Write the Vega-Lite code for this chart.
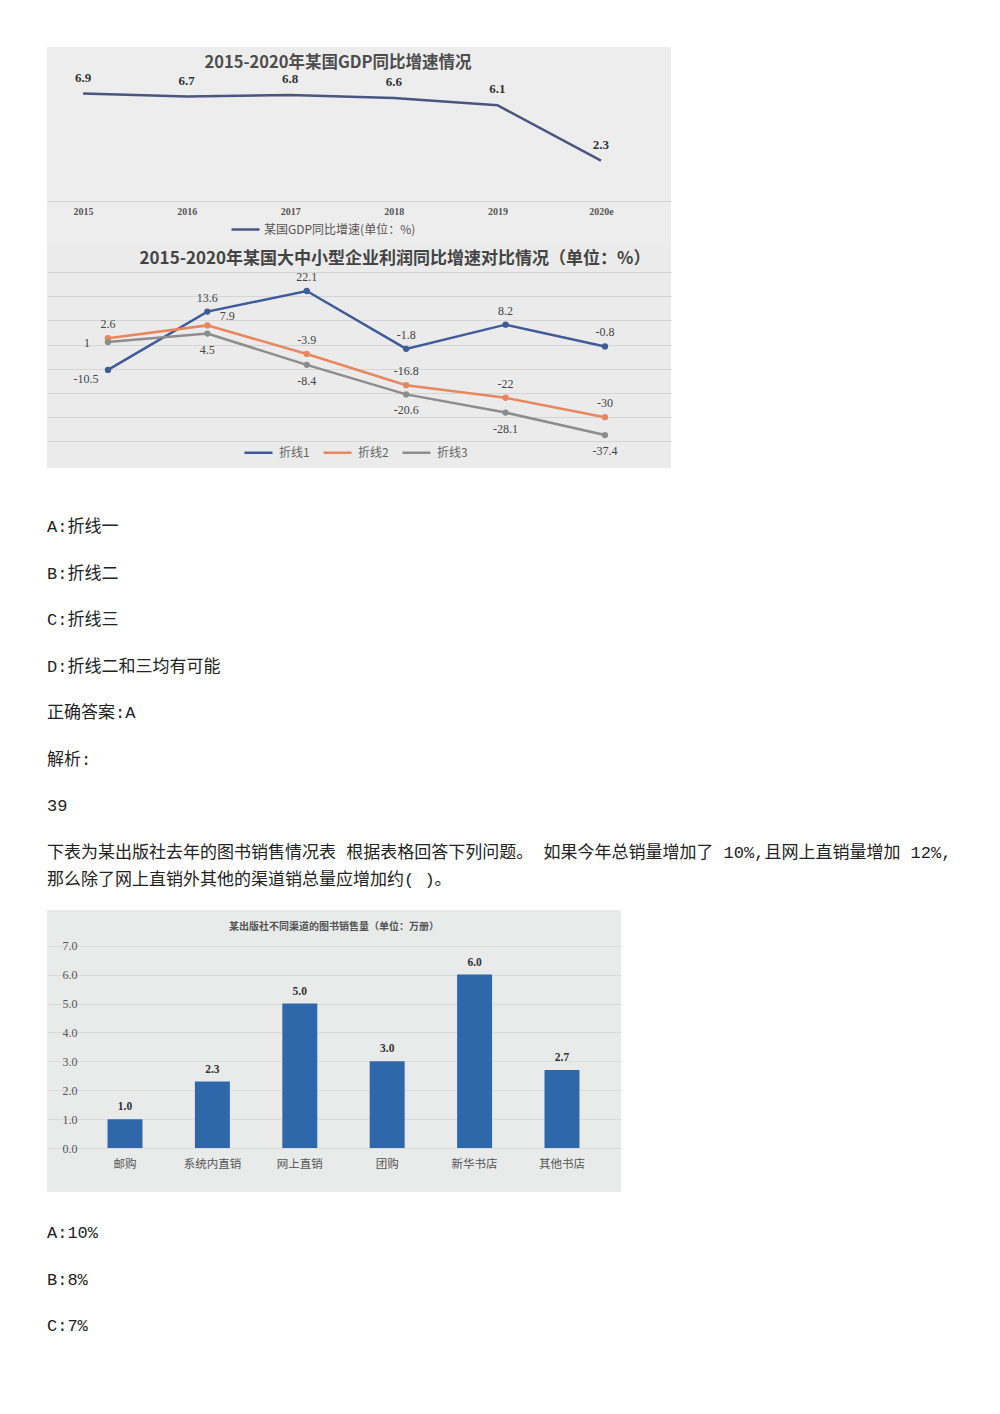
{
  "$schema": "https://vega.github.io/schema/vega-lite/v6.json",
  "background": "white",
  "padding": {"left": 47, "top": 47, "right": 0, "bottom": 0},
  "spacing": 0,
  "bounds": "flush",
  "resolve": {"scale": {"color": "independent", "x": "independent", "y": "independent"}, "legend": {"color": "independent"}},
  "config": {"view": {"stroke": null}, "font": "Noto Sans CJK SC"},
  "datasets": {
    "gdp": [
      {"year": "2015", "value": 6.9, "series": "某国GDP同比增速(单位：%)"},
      {"year": "2016", "value": 6.7, "series": "某国GDP同比增速(单位：%)"},
      {"year": "2017", "value": 6.8, "series": "某国GDP同比增速(单位：%)"},
      {"year": "2018", "value": 6.6, "series": "某国GDP同比增速(单位：%)"},
      {"year": "2019", "value": 6.1, "series": "某国GDP同比增速(单位：%)"},
      {"year": "2020e", "value": 2.3, "series": "某国GDP同比增速(单位：%)"}
    ],
    "profit": [
      {"year": "2015", "series": "折线1", "value": -10.5},
      {"year": "2016", "series": "折线1", "value": 13.6},
      {"year": "2017", "series": "折线1", "value": 22.1},
      {"year": "2018", "series": "折线1", "value": -1.8},
      {"year": "2019", "series": "折线1", "value": 8.2},
      {"year": "2020", "series": "折线1", "value": -0.8},
      {"year": "2015", "series": "折线2", "value": 2.6},
      {"year": "2016", "series": "折线2", "value": 7.9},
      {"year": "2017", "series": "折线2", "value": -3.9},
      {"year": "2018", "series": "折线2", "value": -16.8},
      {"year": "2019", "series": "折线2", "value": -22},
      {"year": "2020", "series": "折线2", "value": -30},
      {"year": "2015", "series": "折线3", "value": 1},
      {"year": "2016", "series": "折线3", "value": 4.5},
      {"year": "2017", "series": "折线3", "value": -8.4},
      {"year": "2018", "series": "折线3", "value": -20.6},
      {"year": "2019", "series": "折线3", "value": -28.1},
      {"year": "2020", "series": "折线3", "value": -37.4}
    ],
    "bars": [
      {"channel": "邮购", "value": 1.0},
      {"channel": "系统内直销", "value": 2.3},
      {"channel": "网上直销", "value": 5.0},
      {"channel": "团购", "value": 3.0},
      {"channel": "新华书店", "value": 6.0},
      {"channel": "其他书店", "value": 2.7}
    ],
    "text1": [
      {"row": 0, "text": "A:折线一"},
      {"row": 1, "text": "B:折线二"},
      {"row": 2, "text": "C:折线三"},
      {"row": 3, "text": "D:折线二和三均有可能"},
      {"row": 4, "text": "正确答案:A"},
      {"row": 5, "text": "解析:"},
      {"row": 6, "text": "39"},
      {"row": 7, "text": "下表为某出版社去年的图书销售情况表 根据表格回答下列问题。 如果今年总销量增加了 10%,且网上直销量增加 12%,\n那么除了网上直销外其他的渠道销总量应增加约( )。"}
    ],
    "text2": [
      {"row": 0, "text": "A:10%"},
      {"row": 1, "text": "B:8%"},
      {"row": 2, "text": "C:7%"}
    ]
  },
  "vconcat": [
    {
      "width": 624,
      "height": 198,
      "view": {"fill": "#ededed", "stroke": null},
      "title": {"text": "2015-2020年某国GDP同比增速情况", "offset": -24, "fontSize": 16.5, "font": "Noto Sans CJK SC", "fontWeight": "bold", "color": "#4d4d4d", "anchor": "middle", "dx": -21},
      "data": {"name": "gdp"},
      "encoding": {
        "x": {"field": "year", "type": "ordinal", "sort": null,
          "scale": {"type": "point", "padding": 0.512, "align": 0.34},
          "axis": {"orient": "bottom", "offset": -44, "title": null, "labelAngle": 0, "ticks": false, "domainColor": "#d2d2d2", "labelFont": "Liberation Serif", "labelFontSize": 10, "labelFontWeight": "bold", "labelColor": "#555", "labelPadding": 5}},
        "y": {"field": "value", "type": "quantitative", "scale": {"domain": [-3.5, 10.1]}, "axis": null}
      },
      "layer": [
        {"mark": {"type": "line", "strokeWidth": 2.5},
         "encoding": {"color": {"field": "series", "type": "nominal", "scale": {"range": ["#4a5680"]},
           "legend": {"orient": "none", "legendX": 183, "legendY": 167, "title": null, "symbolType": "stroke", "symbolSize": 784, "symbolStrokeWidth": 2.5, "labelFont": "Noto Sans CJK SC", "labelFontSize": 12, "labelColor": "#555", "labelOffset": 3}}}},
        {"mark": {"type": "text", "dy": -16, "font": "Liberation Serif", "fontSize": 13, "fontWeight": "bold", "color": "#333"},
         "encoding": {"text": {"field": "value", "type": "quantitative", "format": ".1f"}}}
      ]
    },
    {
      "width": 624,
      "height": 223,
      "view": {"fill": "#ebebeb", "stroke": null},
      "title": {"text": "2015-2020年某国大中小型企业利润同比增速对比情况（单位：%）", "offset": -23, "fontSize": 17, "font": "Noto Sans CJK SC", "fontWeight": "bold", "color": "#444", "anchor": "middle", "dx": 36},
      "data": {"name": "profit"},
      "encoding": {
        "x": {"field": "year", "type": "ordinal", "scale": {"type": "point", "padding": 0.639, "align": 0.48}, "axis": null},
        "y": {"field": "value", "type": "quantitative", "scale": {"domain": [-51, 41.1]},
          "axis": {"orient": "left", "values": [-40, -30, -20, -10, 0, 10, 20, 30], "grid": true, "gridColor": "#d5d5d5", "gridWidth": 1.2, "labels": false, "ticks": false, "domain": false, "title": null}}
      },
      "layer": [
        {"mark": {"type": "line", "strokeWidth": 2.5, "point": {"filled": true, "size": 40}},
         "encoding": {"color": {"field": "series", "type": "nominal", "scale": {"domain": ["折线1", "折线2", "折线3"], "range": ["#3f5b9a", "#e8875e", "#8d8d8d"]},
           "legend": {"orient": "none", "direction": "horizontal", "legendX": 196, "legendY": 192, "title": null, "symbolType": "stroke", "symbolSize": 784, "symbolStrokeWidth": 2.5, "labelFont": "Noto Sans CJK SC", "labelFontSize": 12, "labelColor": "#666", "labelOffset": 5, "columnPadding": 8}}}},
        {"transform": [{"filter": "(datum.series === '折线1' && datum.year !== '2015') || (datum.series === '折线2' && datum.year !== '2016')"}],
         "mark": {"type": "text", "dy": -14, "font": "Liberation Serif", "fontSize": 12, "color": "#444"},
         "encoding": {"text": {"field": "value", "type": "nominal"}}},
        {"transform": [{"filter": "datum.series === '折线2' && datum.year === '2016'"}],
         "mark": {"type": "text", "dx": 20, "dy": -9, "font": "Liberation Serif", "fontSize": 12, "color": "#444"},
         "encoding": {"text": {"field": "value", "type": "nominal"}}},
        {"transform": [{"filter": "datum.series === '折线1' && datum.year === '2015'"}],
         "mark": {"type": "text", "dx": -22, "dy": 9, "font": "Liberation Serif", "fontSize": 12, "color": "#444"},
         "encoding": {"text": {"field": "value", "type": "nominal"}}},
        {"transform": [{"filter": "datum.series === '折线3' && datum.year === '2015'"}],
         "mark": {"type": "text", "dx": -21, "dy": 1, "font": "Liberation Serif", "fontSize": 12, "color": "#444"},
         "encoding": {"text": {"field": "value", "type": "nominal"}}},
        {"transform": [{"filter": "datum.series === '折线3' && datum.year !== '2015'"}],
         "mark": {"type": "text", "dy": 16, "font": "Liberation Serif", "fontSize": 12, "color": "#444"},
         "encoding": {"text": {"field": "value", "type": "nominal"}}}
      ]
    },
    {
      "width": 920,
      "height": 442,
      "data": {"name": "text1"},
      "encoding": {
        "y": {"field": "row", "type": "quantitative", "scale": {"domain": [-1.267, 8.224], "reverse": true, "zero": false, "nice": false}, "axis": null},
        "text": {"field": "text", "type": "nominal"}
      },
      "layer": [
        {"transform": [{"filter": "datum.row < 7"}],
         "mark": {"type": "text", "x": 0, "align": "left", "baseline": "middle", "font": "Liberation Mono, Noto Sans CJK SC", "fontSize": 17, "color": "#222"}},
        {"transform": [{"filter": "datum.row === 7"}],
         "mark": {"type": "text", "x": 0, "align": "left", "baseline": "middle", "lineBreak": "\n", "lineHeight": 27, "font": "Liberation Mono, Noto Sans CJK SC", "fontSize": 17, "color": "#222"}}
      ]
    },
    {
      "width": 574,
      "height": 282,
      "view": {"fill": "#e9eaea", "stroke": null},
      "title": {"text": "某出版社不同渠道的图书销售量（单位：万册）", "offset": -22, "fontSize": 10, "font": "Noto Sans CJK SC", "fontWeight": "bold", "color": "#555", "anchor": "middle"},
      "data": {"name": "bars"},
      "encoding": {
        "x": {"field": "channel", "type": "nominal", "sort": null,
          "scale": {"type": "band", "paddingInner": 0.6, "paddingOuter": 0.584, "align": 0.593},
          "axis": {"orient": "bottom", "offset": -43, "title": null, "labelAngle": 0, "ticks": false, "domain": false, "labelFont": "Noto Sans CJK SC", "labelFontSize": 11.5, "labelColor": "#555", "labelPadding": 9}},
        "y": {"field": "value", "type": "quantitative", "scale": {"domain": [-1.52, 8.235]},
          "axis": {"orient": "left", "offset": -32, "values": [0, 1, 2, 3, 4, 5, 6, 7], "format": ".1f", "title": null, "ticks": false, "domain": false, "grid": true, "gridColor": "#dadada", "labelFont": "Liberation Serif", "labelFontSize": 12, "labelColor": "#555", "labelPadding": 2}}
      },
      "layer": [
        {"mark": {"type": "bar", "color": "#2f68aa"}},
        {"mark": {"type": "text", "dy": -12, "baseline": "middle", "font": "Liberation Serif", "fontSize": 11.5, "fontWeight": "bold", "color": "#333"},
         "encoding": {"text": {"field": "value", "type": "quantitative", "format": ".1f"}}}
      ]
    },
    {
      "width": 920,
      "height": 222,
      "data": {"name": "text2"},
      "mark": {"type": "text", "x": 0, "align": "left", "baseline": "middle", "font": "Liberation Mono, Noto Sans CJK SC", "fontSize": 17, "color": "#222"},
      "encoding": {
        "y": {"field": "row", "type": "quantitative", "scale": {"domain": [-0.882, 3.892], "reverse": true, "zero": false, "nice": false}, "axis": null},
        "text": {"field": "text", "type": "nominal"}
      }
    }
  ]
}
